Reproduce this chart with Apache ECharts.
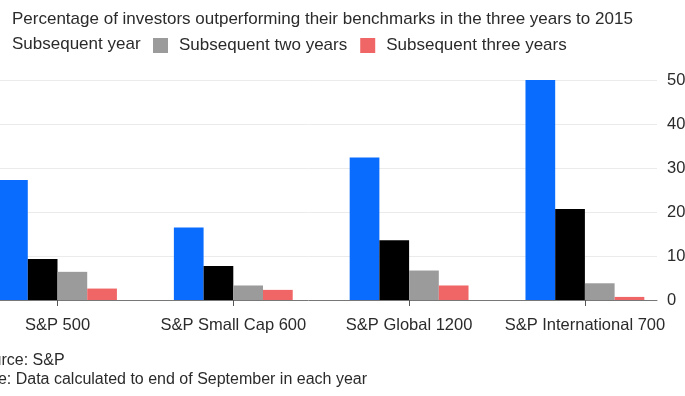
<!DOCTYPE html>
<html>
<head>
<meta charset="utf-8">
<script src="https://cdn.jsdelivr.net/npm/echarts@6/dist/echarts.min.js"></script>
<style>
  html, body { margin: 0; padding: 0; background: #fff; overflow: hidden; width: 685px; height: 396px; }
  /* chart is wider than the window and shifted left, like the cropped screenshot */
  #chart { position: absolute; left: -40px; top: 0; width: 760px; height: 396px; }
</style>
</head>
<body>
<div id="chart"></div>
<script>
  const categories = ['S&P 500', 'S&P Small Cap 600', 'S&P Global 1200', 'S&P International 700'];
  const seriesNames = [
    'Percentage of investors outperforming their benchmarks in the three years to 2015',
    'Subsequent year',
    'Subsequent two years',
    'Subsequent three years'
  ];
  const threeYears = [27.3, 16.5, 32.4, 50.2];
  const subsequentYear = [9.3, 7.7, 13.6, 20.7];
  const subsequentTwo = [6.4, 3.3, 6.7, 3.8];
  const subsequentThree = [2.6, 2.3, 3.3, 0.7];
  const yTicks = [0, 10, 20, 30, 40, 50];

  const colors = ['#0a6cff', '#000000', '#9b9b9b', '#f06666'];
  const font = "'Liberation Sans', Arial, Helvetica, sans-serif";
  const textColor = '#2b2b2b';

  const chart = echarts.init(document.getElementById('chart'));

  const bar = (name, data, color) => ({
    name,
    type: 'bar',
    xAxisIndex: 0,
    yAxisIndex: 0,
    data,
    barGap: '0%',
    barCategoryGap: '32.4%',
    itemStyle: { color },
    emphasis: { disabled: true }
  });

  const option = {
    animation: false,
    textStyle: { fontFamily: font },
    legend: [
      {
        // first two keys: their swatches fall off the left edge
        data: [seriesNames[0], seriesNames[1]],
        orient: 'vertical',
        left: 0,
        top: 6,
        icon: 'rect',
        itemWidth: 15,
        itemHeight: 15,
        itemGap: 8,
        selectedMode: false,
        textStyle: { color: textColor, fontSize: 17, fontFamily: font, padding: [0, 0, 0, 27] }
      },
      {
        data: [seriesNames[2], seriesNames[3]],
        left: 188,
        top: 32,
        icon: 'rect',
        itemWidth: 15,
        itemHeight: 15,
        itemGap: 13,
        selectedMode: false,
        textStyle: { color: textColor, fontSize: 17, fontFamily: font, padding: [0, 0, 0, 6] }
      }
    ],
    grid: [
      { left: 9.6, right: 47.2, top: 80, bottom: 96 },
      { left: 0, right: 63, top: 80, bottom: 96 }
    ],
    xAxis: [
      {
        type: 'category',
        gridIndex: 0,
        data: categories,
        axisLine: { show: false },
        axisTick: { show: true, alignWithLabel: true, length: 6, lineStyle: { color: '#555' } },
        axisLabel: { color: textColor, fontSize: 16.5, fontFamily: font, margin: 17, interval: 0 }
      },
      {
        type: 'value',
        gridIndex: 1,
        min: 0,
        max: 1,
        axisLine: { show: true, lineStyle: { color: '#777', width: 1 } },
        axisTick: { show: false },
        axisLabel: { show: false },
        splitLine: { show: false }
      }
    ],
    yAxis: [
      {
        type: 'value',
        gridIndex: 0,
        min: yTicks[0],
        max: yTicks[yTicks.length - 1],
        show: false
      },
      {
        type: 'value',
        gridIndex: 1,
        position: 'right',
        min: yTicks[0],
        max: yTicks[yTicks.length - 1],
        interval: 10,
        axisLine: { show: false },
        axisTick: { show: false },
        axisLabel: { color: textColor, fontSize: 16.5, fontFamily: font, margin: 10 },
        splitLine: { lineStyle: { color: '#ebebeb', width: 1 } }
      }
    ],
    series: [
      bar(seriesNames[0], threeYears, colors[0]),
      bar(seriesNames[1], subsequentYear, colors[1]),
      bar(seriesNames[2], subsequentTwo, colors[2]),
      bar(seriesNames[3], subsequentThree, colors[3])
    ],
    graphic: [
      {
        type: 'text',
        left: 13,
        top: 353,
        style: { text: 'Source: S&P', fill: textColor, font: '16px ' + font }
      },
      {
        type: 'text',
        left: 13,
        top: 372,
        style: { text: 'Note: Data calculated to end of September in each year', fill: textColor, font: '16px ' + font }
      }
    ]
  };

  chart.setOption(option);
  window.addEventListener('resize', () => chart.resize());
</script>
</body>
</html>
